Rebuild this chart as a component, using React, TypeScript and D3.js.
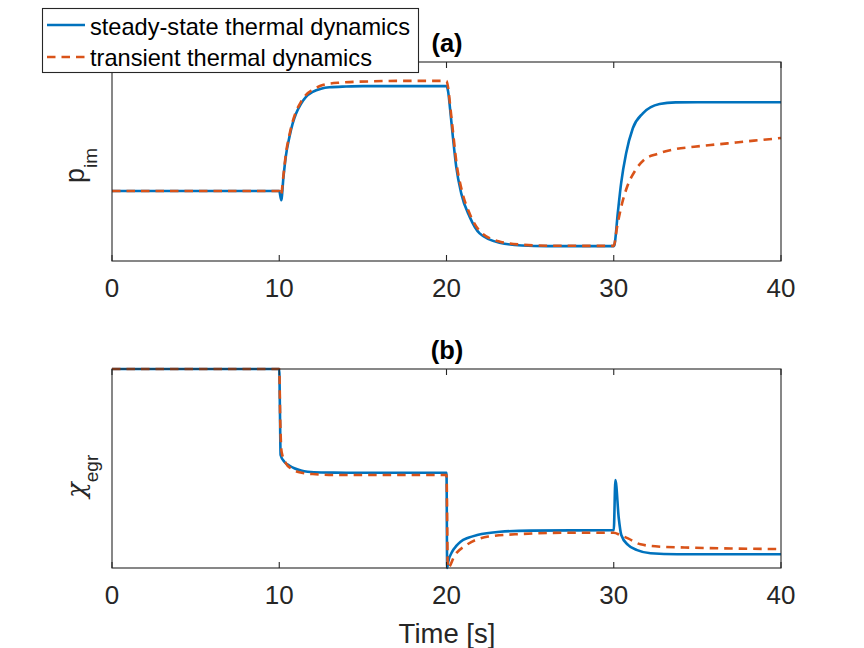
import React from "react";
import * as d3 from "d3";

// ---- data ----
const xTicks = [0, 10, 20, 30, 40];
const titles = ["(a)", "(b)"];
const seriesNames = ["steady-state thermal dynamics", "transient thermal dynamics"];

const pimSteadyT = [0, 10, 10.12, 10.25, 10.4, 10.6, 10.8, 11.0, 11.3, 11.6, 12.0, 12.5, 13, 14, 15, 20, 20.1, 20.22, 20.38, 20.58, 20.88, 21.38, 21.98, 23.17, 24.5, 26, 30, 30.04, 30.24, 30.44, 30.74, 31.14, 31.74, 32.74, 33.7, 35, 40];
const pimSteadyV = [0.352, 0.352, 0.305, 0.42, 0.53, 0.62, 0.69, 0.74, 0.79, 0.825, 0.85, 0.866, 0.873, 0.877, 0.879, 0.879, 0.85, 0.759, 0.625, 0.474, 0.34, 0.223, 0.139, 0.092, 0.078, 0.075, 0.075, 0.08, 0.24, 0.39, 0.541, 0.667, 0.742, 0.789, 0.797, 0.798, 0.798];

const pimTransT = [0, 10, 10.1, 10.25, 10.4, 10.6, 10.8, 11.0, 11.3, 11.6, 12.0, 12.6, 13.6, 15.6, 17, 20, 20.1, 20.22, 20.4, 20.6, 20.9, 21.4, 22.0, 23.2, 24.5, 26, 30, 30.2, 30.5, 30.8, 31.3, 31.8, 32.6, 33.6, 34.8, 35.8, 36.8, 37.8, 38.8, 40];
const pimTransV = [0.352, 0.352, 0.33, 0.43, 0.54, 0.63, 0.7, 0.75, 0.8, 0.835, 0.86, 0.884, 0.896, 0.903, 0.905, 0.905, 0.87, 0.78, 0.64, 0.49, 0.36, 0.235, 0.15, 0.097, 0.082, 0.077, 0.076, 0.172, 0.29, 0.373, 0.457, 0.508, 0.538, 0.561, 0.574, 0.583, 0.591, 0.6, 0.608, 0.618];

const egrSteadyT = [0, 10, 10.04, 10.08, 10.3, 10.6, 10.9, 11.3, 11.7, 12.5, 14, 20, 20.04, 20.1, 20.34, 20.6, 20.84, 21.3, 21.84, 23.2, 25, 30, 30.1, 30.3, 30.45, 30.85, 31.4, 32.2, 33.8, 40];
const egrSteadyV = [1, 1, 0.8, 0.568, 0.534, 0.515, 0.501, 0.49, 0.484, 0.48, 0.479, 0.479, 0.0, 0.03, 0.082, 0.112, 0.132, 0.152, 0.166, 0.182, 0.188, 0.19, 0.442, 0.25, 0.166, 0.116, 0.09, 0.074, 0.069, 0.069];

const egrTransT = [0, 10, 10.06, 10.14, 10.4, 10.7, 11.2, 12.0, 13.5, 20, 20.08, 20.5, 21.2, 22.5, 24.5, 27, 30, 30.4, 30.85, 31.6, 32.8, 34.8, 37, 40];
const egrTransV = [1, 1, 0.735, 0.584, 0.526, 0.5, 0.481, 0.472, 0.467, 0.467, 0.0, 0.065, 0.116, 0.158, 0.171, 0.177, 0.177, 0.165, 0.149, 0.119, 0.107, 0.102, 0.098, 0.095];

const BLUE = "#0072BD";
const ORANGE = "#D95319";
const AXIS = "#262626";
const FONT = "'Liberation Sans', Arial, Helvetica, sans-serif";

const left = 112;
const right = 781;
const panels = [
  { top: 62, bottom: 261 },
  { top: 369, bottom: 568 },
];

function zip(t: number[], v: number[]): [number, number][] {
  return t.map((x, i) => [x, v[i]]);
}

function Panel({ idx, steady, trans }: { idx: number; steady: [number, number][]; trans: [number, number][] }) {
  const { top, bottom } = panels[idx];
  const x = d3.scaleLinear().domain([0, 40]).range([left, right]);
  const y = d3.scaleLinear().domain([0, 1]).range([bottom, top]);
  const line = d3
    .line<[number, number]>()
    .x((d) => x(d[0]))
    .y((d) => y(d[1]))
    .curve(d3.curveMonotoneX);
  return (
    <g>
      <rect x={left} y={top} width={right - left} height={bottom - top} fill="#fff" />
      <path d={line(steady) || ""} fill="none" stroke={BLUE} strokeWidth={2.6} strokeLinejoin="round" />
      <path d={line(trans) || ""} fill="none" stroke={ORANGE} strokeWidth={2.6} strokeDasharray="8.5,6" />
      <rect x={left} y={top} width={right - left} height={bottom - top} fill="none" stroke={AXIS} strokeWidth={1.1} />
      {xTicks.map((t) => (
        <g key={t}>
          <line x1={x(t)} x2={x(t)} y1={bottom} y2={bottom - 6} stroke={AXIS} strokeWidth={1.1} />
          <line x1={x(t)} x2={x(t)} y1={top} y2={top + 6} stroke={AXIS} strokeWidth={1.1} />
          <text x={x(t)} y={bottom + 35.5} textAnchor="middle" fontSize={26} fill={AXIS} fontFamily={FONT}>
            {t}
          </text>
        </g>
      ))}
      <text x={447} y={top - 10} textAnchor="middle" fontSize={25.5} fontWeight="bold" fill="#000" fontFamily={FONT}>
        {titles[idx]}
      </text>
    </g>
  );
}

export default function App() {
  const pimS = zip(pimSteadyT, pimSteadyV);
  const pimT = zip(pimTransT, pimTransV);
  const egrS = zip(egrSteadyT, egrSteadyV);
  const egrT = zip(egrTransT, egrTransV);
  return (
    <svg width={864} height={648} style={{ position: "absolute", left: 0, top: 0, display: "block", background: "#fff" }}>
      <rect x={0} y={0} width={864} height={648} fill="#fff" />
      <Panel idx={0} steady={pimS} trans={pimT} />
      <Panel idx={1} steady={egrS} trans={egrT} />

      {/* y labels */}
      <text transform="translate(83.5,183) rotate(-90)" fontSize={27} fill={AXIS} fontFamily={FONT}>
        p
        <tspan fontSize={19} dy={13}>im</tspan>
      </text>
      <text transform="translate(85,498) rotate(-90)" fontSize={27} fill={AXIS} fontFamily={FONT}>
        <tspan fontFamily="'DejaVu Serif', serif" fontStyle="italic" fontSize={26}>χ</tspan>
        <tspan fontSize={19} dy={13}>egr</tspan>
      </text>
      {/* x label */}
      <text x={447} y={643} textAnchor="middle" fontSize={27.5} fill={AXIS} fontFamily={FONT}>
        Time [s]
      </text>

      {/* legend */}
      <rect x={42.5} y={8.5} width={376} height={64} fill="#fff" stroke={AXIS} strokeWidth={1.1} />
      <line x1={47} x2={85} y1={25} y2={25} stroke={BLUE} strokeWidth={2.6} />
      <line x1={47} x2={85} y1={57} y2={57} stroke={ORANGE} strokeWidth={2.6} strokeDasharray="8.5,6" />
      <text x={90} y={34.5} fontSize={23.6} fill="#000" fontFamily={FONT}>
        {seriesNames[0]}
      </text>
      <text x={90} y={66} fontSize={23.6} fill="#000" fontFamily={FONT}>
        {seriesNames[1]}
      </text>
    </svg>
  );
}
